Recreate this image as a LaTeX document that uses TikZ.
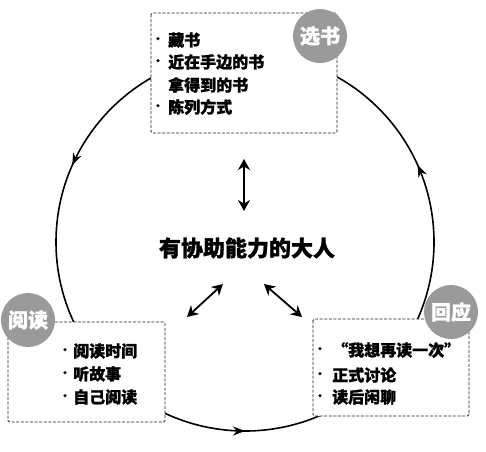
\documentclass[tikz,border=0pt]{standalone}
\usepackage{fontspec}
\setmainfont{Noto Sans CJK SC}[BoldFeatures={FakeBold=1.2}]
\usetikzlibrary{arrows.meta,decorations.markings}
\begin{document}
\begin{tikzpicture}[x=1pt,y=-1pt,
  box/.style={draw=black!85, dash pattern=on 3pt off 1.6pt, line width=0.9pt, fill=white, rounded corners=1.5pt},
  badge/.style={circle, fill=badgegray, text=white, font=\bfseries\fontsize{20}{20}\selectfont, minimum size=54pt, inner sep=0pt},
  item/.style={anchor=west, font=\bfseries\fontsize{16}{16}\selectfont, inner sep=0pt},
  bul/.style={anchor=center, font=\bfseries\fontsize{11}{11}\selectfont, inner sep=0pt},
  dbl/.style={{Stealth[length=11pt,width=12pt]}-{Stealth[length=11pt,width=12pt]}, line width=1.8pt},
  cyc/.style={line width=1.6pt, postaction={decorate}, decoration={markings,
     mark=at position 0.0667 with {\arrow{Stealth[length=12pt,width=9pt]}},
     mark=at position 0.4333 with {\arrow{Stealth[length=12pt,width=9pt]}},
     mark=at position 0.75 with {\arrow{Stealth[length=12pt,width=9pt]}}}}
]
\definecolor{badgegray}{HTML}{9A9A9A}
\useasboundingbox (0,0) rectangle (486,451);
\fill[white] (0,0) rectangle (486,451);
% cycle
\coordinate (c) at (245,242);
\draw[cyc] (c) ++(0:189) arc[start angle=360, end angle=0, radius=189];
% boxes
\draw[box] (151,13) rectangle (337,133);
\draw[box] (8,322) rectangle (165,422);
\draw[box] (313,319) rectangle (469,416);
% badges
\node[badge] (xs) at (320,36) {选书};
\node[badge] (yd) at (28,320) {阅读};
\node[badge] (hy) at (451,312) {回应};
% top texts
\node[bul] at (158,40) {•};
\node[item] (t1) at (168,40) {藏书};
\node[bul] at (158,62) {•};
\node[item] (t2) at (168,62) {近在手边的书};
\node[item] (t3) at (168,85) {拿得到的书};
\node[bul] at (158,107) {•};
\node[item] (t4) at (168,107) {陈列方式};
% left texts
\node[bul] at (65,351) {•};
\node[item] (l1) at (73,351) {阅读时间};
\node[bul] at (65,374) {•};
\node[item] (l2) at (73,374) {听故事};
\node[bul] at (65,397) {•};
\node[item] (l3) at (73,397) {自己阅读};
% right texts
\node[bul] at (320,350) {•};
\node[item] (r1) at (332,350) {“我想再读一次”};
\node[bul] at (320,375) {•};
\node[item] (r2) at (332,375) {正式讨论};
\node[bul] at (320,397) {•};
\node[item] (r3) at (332,397) {读后闲聊};
% center
\node[font=\bfseries\fontsize{22}{22}\selectfont, inner sep=0pt] (adult) at (247,248) {有协助能力的大人};
\coordinate (va) at (244,159);
\coordinate (vb) at (244,211);
\coordinate (la) at (187,317);
\coordinate (lb) at (223,284);
\coordinate (ra) at (264,284);
\coordinate (rb) at (302,317);
\draw[dbl] (va) -- (vb);
\draw[dbl] (la) -- (lb);
\draw[dbl] (ra) -- (rb);
\end{tikzpicture}
\end{document}
